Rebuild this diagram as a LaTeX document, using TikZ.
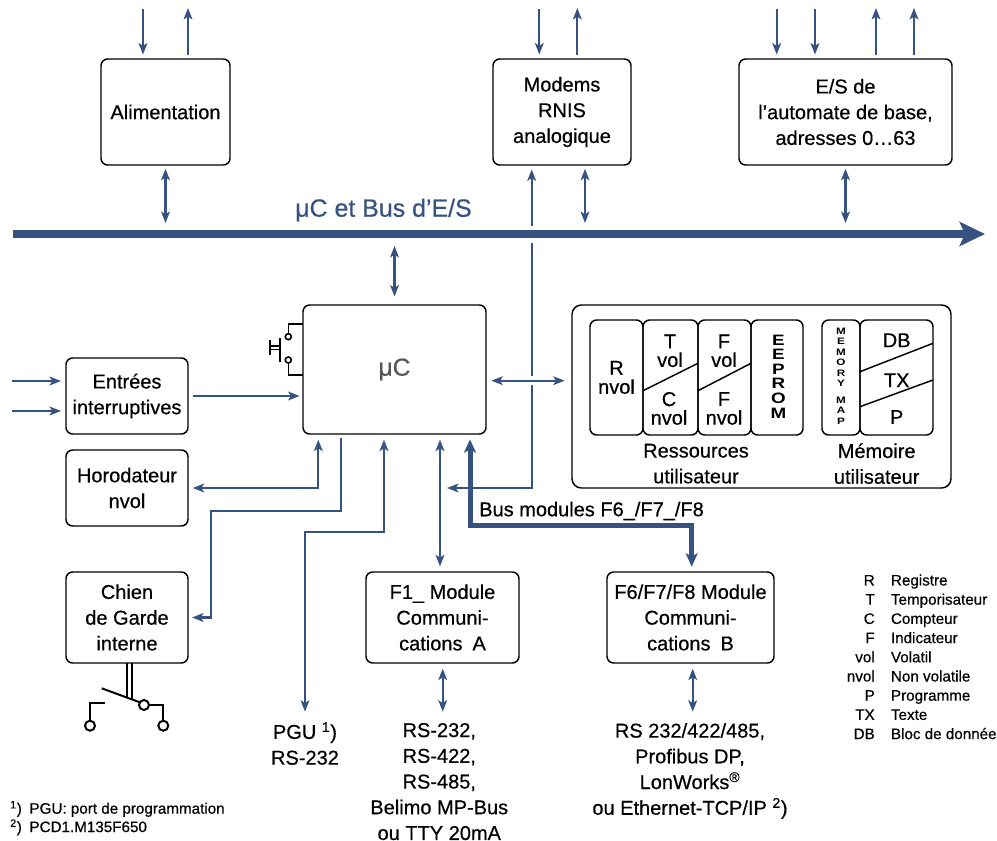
\documentclass[tikz,border=0pt]{standalone}
\usepackage{fontspec}
\setmainfont{Liberation Sans}[FakeBold=0.5]
\newfontfamily\wideb{Liberation Sans}[FakeStretch=1.25,BoldFeatures={FakeStretch=1.25}]
\usetikzlibrary{arrows.meta}
\definecolor{blu}{RGB}{54,82,128}
\definecolor{gry}{RGB}{85,85,85}
\newcommand{\fnorm}{\fontsize{15}{19.3}\selectfont}
\newcommand{\fsmall}{\fontsize{11.4}{14.4}\selectfont}
\begin{document}
\begin{tikzpicture}[x=0.75pt,y=-0.75pt,
  >={Stealth[length=8.5pt,width=6.5pt,inset=2pt]},
  rect/.style args={#1/#2/#3/#4}{at={({(#1+#3)/2},{(#2+#4)/2})},minimum width={(#3-#1)*0.75pt},minimum height={(#4-#2)*0.75pt}},
  box/.style={draw=black,line width=1.1pt,rounded corners=5pt,inner sep=0pt,align=center,font=\fnorm},
  ibox/.style={draw=black,line width=1.1pt,rounded corners=5pt,inner sep=0pt},
  conn/.style={draw=blu,line width=1.7pt},
  fat/.style={draw=blu,line width=3.75pt,>={Stealth[length=10pt,width=9pt,inset=2.5pt]}},
  txt/.style={inner sep=0pt,align=center,font=\fnorm},
  itxt/.style={inner sep=0pt,align=center,font=\fontsize{15}{14}\selectfont},
  leg/.style={inner sep=0pt,font=\fsmall},
  sym/.style={draw=black,line width=1.2pt},
  swl/.style={draw=black,line width=1.5pt},
]
\useasboundingbox (0,0) rectangle (997,841);

% ---------- boxes ----------
\node[box,rect={101/59/230/165}] (alim) {Alimentation};
\node[box,rect={493/59/631/165}] (modem) {Modems\\RNIS\\analogique};
\node[box,rect={739/59/952/165}] (es) {E/S de\\l’automate de base,\\adresses 0…63};
\node[box,rect={303/305/486/434},font=\fontsize{18.5}{22}\selectfont,text=gry] (uc) {μC};
\node[box,rect={66/358/188/434}] (entr) {Entrées\\interruptives};
\node[box,rect={66/450/188/526}] (horo) {Horodateur\\nvol};
\node[box,rect={66/572/188/663}] (chien) {Chien\\de Garde\\interne};
\node[box,rect={366/572/519/663}] (fone) {F1\_ Module\\Communi-\\cations\enspace A};
\node[box,rect={607/572/774/663}] (fsix) {F6/F7/F8 Module\\Communi-\\cations\enspace B};

% ---------- memory block ----------
\node[ibox,rounded corners=7pt,rect={572/305/951/488}] (mem) {};
\node[ibox,rect={590/320/643/435},align=center,font=\fontsize{15}{14.3}\selectfont] (rb) {R\\nvol};
\node[ibox,rect={643/320/698/435}] (tc) {};
\node[ibox,rect={698/320/751/435}] (ff) {};
\node[ibox,rect={751/320/803/435}] (eep) {};
\node[ibox,rect={822/320/860/435}] (mm) {};
\node[ibox,rect={860/320/933/435}] (dtp) {};
\draw[sym,line width=1.1pt] (643,390.7) -- (698,363.3);
\draw[sym,line width=1.1pt] (698,390.7) -- (751,363.3);
\draw[sym,line width=1.1pt] (860,371.7) -- (933,343.3);
\draw[sym,line width=1.1pt] (860,406.7) -- (933,380);
\node[itxt] (tv) at (670,350.8) {T\\vol};
\node[itxt] (cn) at (669,408.5) {C\\nvol};
\node[itxt] (fv) at (724,350.8) {F\\vol};
\node[itxt] (fn) at (724,408.5) {F\\nvol};
\node[inner sep=0pt,align=center,font=\wideb\fontsize{11.3}{10.9}\bfseries] (eept) at (778.5,376.5) {E\\E\\P\\R\\O\\M};
\node[inner sep=0pt,align=center,font=\wideb\fontsize{7}{7.9}\bfseries] (mmt) at (841,376) {M\\E\\M\\O\\R\\Y\\[4.5pt]M\\A\\P};
\node[txt,anchor=base] (db) at (896.7,347.2) {DB};
\node[txt,anchor=base] (tx) at (896.7,387.2) {TX};
\node[txt,anchor=base] (pp) at (896.7,423.9) {P};
\node[txt,anchor=north] (res) at (696,443.5) {Ressources\\utilisateur};
\node[txt,anchor=north] (memu) at (876.7,443) {Mémoire\\utilisateur};

% ---------- free-end coordinates ----------
\coordinate (a1) at (143,9);   \coordinate (a2) at (188,8);
\coordinate (m1) at (539.3,9); \coordinate (m2) at (577.3,8);
\coordinate (e1) at (776.7,9); \coordinate (e2) at (815,9);
\coordinate (e3) at (876,8);   \coordinate (e4) at (914,8);
\coordinate (busT) at (0,223); \coordinate (busB) at (0,246);
\coordinate (m3) at (585,223);
\coordinate (lt) at (447,488); \coordinate (m4) at (531.7,488);
\coordinate (i1) at (11.7,381); \coordinate (i2) at (11.7,411);
\coordinate (h1) at (318.3,488);
\coordinate (c1) at (341,511); \coordinate (c2) at (211,511);
\coordinate (p1) at (384,531.7); \coordinate (p2) at (305,531.7); \coordinate (p3) at (305,711.7);
\coordinate (f1) at (440,0);
\coordinate (b1) at (470,525.7); \coordinate (b2) at (691.7,525.7);
\coordinate (r1) at (0,380.7);
\coordinate (g1) at (442.7,711.7); \coordinate (g2) at (692.7,711.7);

% ---------- top arrows ----------
\draw[conn,->,shorten >=2.8pt] (a1) -- (a1 |- alim.north);
\draw[conn,->,shorten <=2.8pt] (a2 |- alim.north) -- (a2);
\draw[conn,->,shorten >=2.8pt] (m1) -- (m1 |- modem.north);
\draw[conn,->,shorten <=2.8pt] (m2 |- modem.north) -- (m2);
\draw[conn,->,shorten >=2.8pt] (e1) -- (e1 |- es.north);
\draw[conn,->,shorten >=2.8pt] (e2) -- (e2 |- es.north);
\draw[conn,->,shorten <=2.8pt] (e3 |- es.north) -- (e3);
\draw[conn,->,shorten <=2.8pt] (e4 |- es.north) -- (e4);

% ---------- bus connections ----------
\draw[conn,<->,shorten <=2.3pt] (alim.south) -- (alim.south |- busT);
\draw[conn,<->,shorten <=2.3pt] (m3 |- modem.south) -- (m3);
\draw[conn,<->,shorten <=2.3pt] (es.south) -- (es.south |- busT);
\draw[conn,<->,shorten >=5.8pt] (uc.north |- busB) -- (uc.north);

% modem line down to the bottom
\draw[conn,<->,shorten >=2.8pt] (lt) -- (m4) -- (m4 |- modem.south);

% ---------- left side ----------
\draw[conn,->,shorten >=3.2pt] (i1) -- (i1 -| entr.west);
\draw[conn,->,shorten >=3.2pt] (i2) -- (i2 -| entr.west);
\draw[conn,->,shorten <=3pt,shorten >=2pt] (entr.east) -- (entr.east -| uc.west);
\draw[conn,<->,shorten <=3pt,shorten >=3.7pt] (horo.east) -- (h1) -- (h1 |- uc.south);
\draw[conn,->,shorten <=2.8pt,shorten >=2.5pt] (c1 |- uc.south) -- (c1) -- (c2) -- (c2 |- chien.east) -- (chien.east);
\draw[conn,<->,shorten >=3.7pt] (p3) -- (p2) -- (p1) -- (p1 |- uc.south);
\draw[conn,<->,shorten <=3.7pt,shorten >=3.7pt] (f1 |- uc.south) -- (f1 |- fone.north);
\draw[fat,<->,shorten <=3.5pt,shorten >=3.5pt] (b1 |- uc.south) -- (b1) -- (b2) -- (b2 |- fsix.north);
\draw[conn,<->,shorten <=3.7pt] (g1 |- fone.south) -- (g1);
\draw[conn,<->,shorten <=3.7pt] (g2 |- fsix.south) -- (g2);

% crossing gaps
\fill[white] (526,376) rectangle (537,385.5);
\fill[white] (526,226.5) rectangle (537,243.5);
\draw[conn,<->,shorten <=3.5pt,shorten >=5pt] (r1 -| uc.east) -- (r1 -| mem.west);

% ---------- main bus ----------
\coordinate (busL) at (13,234); \coordinate (busR) at (985,234);
\draw[draw=blu,line width=6pt,-{Stealth[length=19pt,width=18pt,inset=4pt]}] (busL) -- (busR);
\node[anchor=base,inner sep=0pt,text=blu,font=\fontsize{18.7}{22}\selectfont] (buslbl) at (383.5,216.7) {μC et Bus d’E/S};

% ---------- labels ----------
\node[txt,anchor=west] (bml) at (479,511) {Bus modules F6\_/F7\_/F8};
\node[txt,anchor=north] (pgu) at (305,722) {PGU \textsuperscript{1})\\RS-232};
\node[txt,anchor=north] (ifa) at (439.3,722.8) {RS-232,\\RS-422,\\RS-485,\\Belimo MP-Bus\\ou TTY 20mA};
\node[txt,anchor=north] (ifb) at (690,722.8) {RS 232/422/485,\\Profibus DP,\\LonWorks\textsuperscript{®}\\ou Ethernet-TCP/IP \textsuperscript{2})};

% ---------- push button on uC ----------
\draw[sym] (302.7,324.3) -- (288.3,324.3) -- (288.3,333.7);
\draw[sym] (288.3,336.7) circle[radius=3];
\draw[sym] (288.3,360) circle[radius=3];
\draw[sym] (288.3,363) -- (288.3,375) -- (302.7,375);
\draw[sym] (280,338.3) -- (280,361.7);
\draw[sym] (270,346.2) -- (280,346.2);
\draw[sym] (270,349.6) -- (280,349.6);
\draw[sym] (270,340) -- (270,355);

% ---------- watchdog switch ----------
\draw[swl] (126.7,663.3) -- (126.7,697.5);
\draw[swl] (131.7,663.3) -- (131.7,699.3);
\draw[swl] (101.7,688.3) -- (139.3,702.1);
\draw[swl] (144,705) circle[radius=5];
\draw[swl] (149,705) -- (163.3,705) -- (163.3,720.7);
\draw[swl] (163.3,725.7) circle[radius=5];
\draw[swl] (105,703.3) -- (90,703.3) -- (90,720.7);
\draw[swl] (90,725.7) circle[radius=5];

% ---------- legend ----------
\foreach \a/\b [count=\i from 0] in {R/Registre,T/Temporisateur,C/Compteur,F/Indicateur,vol/Volatil,nvol/Non volatile,P/Programme,TX/Texte,DB/Bloc de données}{
  \node[leg,anchor=base east] (la\i) at (875,{585.5+19.2*\i}) {\a};
  \node[leg,anchor=base west] (lb\i) at (890.7,{585.5+19.2*\i}) {\b};
}

% ---------- footnotes ----------
\node[leg,anchor=base west] (fn1) at (10,813.7) {\textsuperscript{1})\enspace PGU: port de programmation};
\node[leg,anchor=base west] (fn2) at (10,832.1) {\textsuperscript{2})\enspace PCD1.M135F650};
\end{tikzpicture}
\end{document}
